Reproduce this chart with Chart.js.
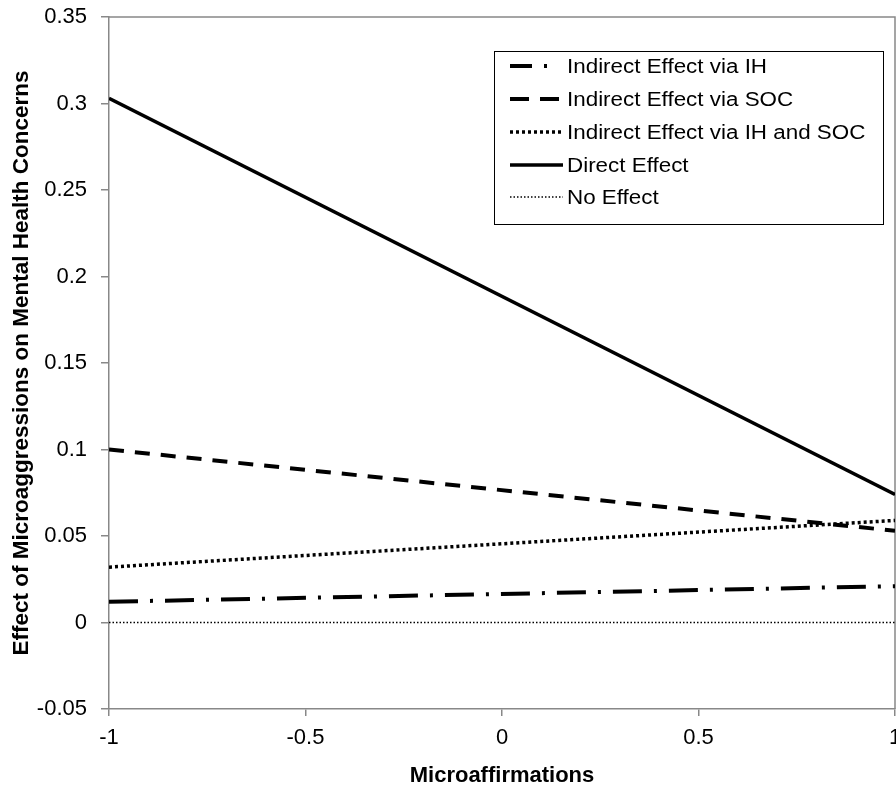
<!DOCTYPE html>
<html lang="en">
<head>
<meta charset="UTF-8">
<title>Effect of Microaggressions on Mental Health Concerns</title>
<script src="https://cdn.jsdelivr.net/npm/chart.js"></script>
<style>
    body { margin: 0; background: #fff; }
    #wrap { width: 896px; height: 791px; }
</style>
</head>
<body>
<div id="wrap"><canvas id="effectChart" width="896" height="791"></canvas></div>
<script>
    // data (values at Microaffirmations = -1 and 1)
    const xValues = [-1, 1];
    const seriesNames = ['Indirect Effect via IH', 'Indirect Effect via SOC', 'Indirect Effect via IH and SOC', 'Direct Effect', 'No Effect'];
    const viaIH = [0.012, 0.021];
    const viaSOC = [0.1, 0.053];
    const viaIHandSOC = [0.032, 0.059];
    const directEffect = [0.303, 0.074];
    const noEffect = [0, 0];

    const xTickValues = [-1, -0.5, 0, 0.5, 1];
    const xTickLabels = ['-1', '-0.5', '0', '0.5', '1'];
    const yTickValues = [-0.05, 0, 0.05, 0.1, 0.15, 0.2, 0.25, 0.3, 0.35];
    const yTickLabels = ['-0.05', '0', '0.05', '0.1', '0.15', '0.2', '0.25', '0.3', '0.35'];

    const FONT = '"Liberation Sans", Arial, Helvetica, sans-serif';
    Chart.defaults.font.family = FONT;
    Chart.defaults.color = '#000';

    function pts(vals) {
        return xValues.map((x, i) => ({ x: x, y: vals[i] }));
    }

    // box around plot area (Excel style)
    const frame = {
        id: 'frame',
        beforeDatasetsDraw(chart) {
            const a = chart.chartArea, ctx = chart.ctx;
            ctx.save();
            ctx.strokeStyle = '#888';
            ctx.lineWidth = 1.5;
            ctx.beginPath();
            ctx.moveTo(a.left, a.top);
            ctx.lineTo(a.right, a.top);
            ctx.lineTo(a.right, a.bottom);
            ctx.stroke();
            ctx.restore();
        }
    };

    // legend drawn inside the plot, top right
    const boxLegend = {
        id: 'boxLegend',
        afterDatasetsDraw(chart) {
            const ctx = chart.ctx;
            const bx = 494, by = 51, bw = 389, bh = 173;
            const rowY = [66, 99, 132, 165, 197];
            ctx.save();
            ctx.fillStyle = '#fff';
            ctx.fillRect(bx, by, bw, bh);
            ctx.strokeStyle = '#000';
            ctx.lineWidth = 1;
            ctx.strokeRect(bx + 0.5, by + 0.5, bw, bh);
            chart.data.datasets.forEach((ds, i) => {
                const y = rowY[i];
                ctx.save();
                ctx.strokeStyle = ds.borderColor;
                ctx.lineWidth = ds.borderWidth;
                ctx.setLineDash(ds.legendDash || ds.borderDash || []);
                ctx.beginPath();
                ctx.moveTo(510, y);
                ctx.lineTo(563, y);
                ctx.stroke();
                ctx.restore();
                ctx.save();
                ctx.translate(567, y);
                ctx.scale(1.12, 1);
                ctx.fillStyle = '#000';
                ctx.font = '20px ' + FONT;
                ctx.textBaseline = 'middle';
                ctx.fillText(ds.label, 0, 1);
                ctx.restore();
            });
            ctx.restore();
        }
    };

    const base = { borderColor: '#000', pointRadius: 0, fill: false, tension: 0 };

    new Chart(document.getElementById('effectChart'), {
        type: 'line',
        data: {
            datasets: [
                Object.assign({ label: seriesNames[0], data: pts(viaIH), borderWidth: 4, borderDash: [29, 12, 3, 12], legendDash: [22, 12, 3, 30] }, base),
                Object.assign({ label: seriesNames[1], data: pts(viaSOC), borderWidth: 4, borderDash: [15, 11], legendDash: [19, 11] }, base),
                Object.assign({ label: seriesNames[2], data: pts(viaIHandSOC), borderWidth: 3.5, borderDash: [3, 3] }, base),
                Object.assign({ label: seriesNames[3], data: pts(directEffect), borderWidth: 3.5 }, base),
                Object.assign({ label: seriesNames[4], data: pts(noEffect), borderWidth: 1.5, borderDash: [1.5, 2] }, base)
            ]
        },
        options: {
            responsive: false,
            animation: false,
            devicePixelRatio: 1,
            layout: { padding: { top: 17, right: 1, left: 0, bottom: 0 } },
            plugins: { legend: { display: false }, tooltip: { enabled: false } },
            scales: {
                x: {
                    type: 'linear',
                    min: -1,
                    max: 1,
                    afterBuildTicks: s => { s.ticks = xTickValues.map(v => ({ value: v })); },
                    afterFit: s => { s.height = 82; s.paddingRight = 0; s.paddingLeft = 0; },
                    ticks: {
                        callback: (v, i) => xTickLabels[i],
                        font: { size: 22 },
                        padding: 9,
                        maxRotation: 0
                    },
                    grid: { drawOnChartArea: false, tickLength: 7, color: '#888', lineWidth: 1.5 },
                    border: { color: '#888', width: 1.5 },
                    title: {
                        display: true,
                        text: 'Microaffirmations',
                        font: { size: 22, weight: 'bold' },
                        padding: { top: 0, bottom: 2 }
                    }
                },
                y: {
                    type: 'linear',
                    min: -0.05,
                    max: 0.35,
                    afterBuildTicks: s => { s.ticks = yTickValues.map(v => ({ value: v })); },
                    afterFit: s => { s.width = 109; s.paddingTop = 0; s.paddingBottom = 0; },
                    ticks: {
                        callback: (v, i) => yTickLabels[i],
                        font: { size: 22 },
                        padding: 14
                    },
                    grid: { drawOnChartArea: false, tickLength: 8, color: '#888', lineWidth: 1.5 },
                    border: { color: '#888', width: 1.5 },
                    title: {
                        display: true,
                        text: 'Effect of Microaggressions on Mental Health Concerns',
                        font: { size: 22.5, weight: 'bold' },
                        padding: { top: 8, bottom: 0 }
                    }
                }
            }
        },
        plugins: [frame, boxLegend]
    });
</script>
</body>
</html>
